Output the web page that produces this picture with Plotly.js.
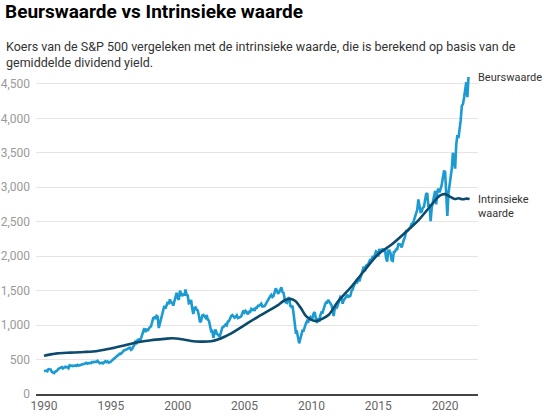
<!DOCTYPE html>
<html>
<head>
<meta charset="utf-8">
<script src="https://cdn.plot.ly/plotly-3.0.1.min.js"></script>
<style>
  html, body { margin: 0; padding: 0; background: #fff; }
  #chart { width: 553px; height: 416px; }
</style>
</head>
<body>
<div id="chart"></div>
<script>
// S&P 500 monthly closes, Jan 1990 - Nov 2021 (values read / estimated)
const startYear = 1990;
const sp500Close = [
  // 1990
  329, 332, 340, 331, 361, 358, 356, 323, 306, 304, 322, 330,
  // 1991
  344, 367, 375, 375, 390, 371, 388, 395, 388, 392, 375, 417,
  // 1992
  409, 413, 404, 415, 415, 408, 424, 414, 418, 419, 431, 436,
  // 1993
  439, 443, 452, 440, 450, 450, 448, 464, 459, 468, 462, 466,
  // 1994
  482, 467, 446, 451, 456, 444, 458, 475, 463, 472, 454, 459,
  // 1995
  470, 487, 501, 515, 533, 545, 562, 562, 584, 581, 605, 616,
  // 1996
  636, 640, 645, 654, 669, 671, 640, 652, 687, 705, 757, 741,
  // 1997
  786, 791, 757, 801, 848, 885, 954, 899, 947, 915, 955, 970,
  // 1998
  980, 1049, 1102, 1112, 1091, 1134, 1121, 957, 1017, 1099, 1164, 1229,
  // 1999
  1280, 1238, 1286, 1335, 1302, 1373, 1329, 1320, 1283, 1363, 1389, 1469,
  // 2000
  1394, 1366, 1499, 1452, 1421, 1455, 1431, 1518, 1436, 1429, 1315, 1320,
  // 2001
  1366, 1240, 1160, 1249, 1256, 1224, 1211, 1134, 1041, 1060, 1139, 1148,
  // 2002
  1130, 1107, 1147, 1077, 1067, 990, 912, 916, 815, 886, 936, 880,
  // 2003
  856, 841, 848, 917, 964, 974, 990, 1008, 996, 1051, 1058, 1112,
  // 2004
  1131, 1145, 1126, 1107, 1121, 1141, 1102, 1104, 1115, 1130, 1174, 1212,
  // 2005
  1181, 1204, 1181, 1157, 1191, 1191, 1234, 1220, 1229, 1207, 1249, 1248,
  // 2006
  1280, 1281, 1295, 1311, 1270, 1270, 1277, 1304, 1336, 1378, 1401, 1418,
  // 2007
  1438, 1407, 1421, 1482, 1531, 1503, 1455, 1474, 1527, 1549, 1481, 1468,
  // 2008
  1379, 1331, 1323, 1386, 1400, 1280, 1267, 1283, 1166, 969, 896, 903,
  // 2009
  826, 735, 798, 873, 919, 919, 988, 1021, 1057, 1036, 1096, 1115,
  // 2010
  1074, 1105, 1169, 1187, 1089, 1031, 1102, 1049, 1141, 1183, 1181, 1258,
  // 2011
  1286, 1327, 1326, 1364, 1345, 1321, 1292, 1219, 1131, 1253, 1247, 1258,
  // 2012
  1312, 1366, 1409, 1398, 1310, 1362, 1379, 1407, 1441, 1412, 1416, 1426,
  // 2013
  1498, 1515, 1569, 1598, 1631, 1606, 1686, 1633, 1682, 1757, 1806, 1848,
  // 2014
  1783, 1860, 1872, 1884, 1924, 1960, 1931, 2003, 1972, 2018, 2068, 2059,
  // 2015
  1995, 2105, 2068, 2086, 2107, 2063, 2104, 1972, 1920, 2079, 2080, 2044,
  // 2016
  1940, 1932, 2060, 2065, 2097, 2099, 2174, 2171, 2168, 2126, 2199, 2239,
  // 2017
  2279, 2364, 2363, 2384, 2412, 2423, 2470, 2472, 2519, 2575, 2648, 2674,
  // 2018
  2824, 2714, 2641, 2648, 2705, 2718, 2816, 2902, 2914, 2712, 2760, 2507,
  // 2019
  2704, 2785, 2834, 2946, 2752, 2942, 2980, 2927, 2977, 3038, 3141, 3231,
  // 2020
  3226, 2954, 2585, 2912, 3044, 3100, 3271, 3500, 3363, 3270, 3622, 3756,
  // 2021
  3714, 3811, 3973, 4181, 4204, 4298, 4395, 4523, 4308, 4605, 4590
];
const sp500Years = sp500Close.map((_, i) => startYear + i / 12);

// Intrinsic value (smooth curve)
const intrinsicYears = [
  1990.0, 1990.5, 1991.0, 1992.0, 1993.0, 1994.0, 1995.0, 1996.0, 1997.0,
  1998.0, 1999.0, 1999.6, 2000.3, 2001.0, 2001.7, 2002.5, 2003.0, 2003.5,
  2004.0, 2005.0, 2006.0, 2007.0, 2007.5, 2008.0, 2008.4, 2008.8, 2009.2,
  2009.6, 2010.0, 2010.4, 2010.8, 2011.3, 2012.0, 2013.0, 2014.0, 2015.0,
  2016.0, 2017.0, 2018.0, 2019.0, 2019.6, 2020.0, 2020.4, 2020.7, 2021.0,
  2021.3, 2021.6, 2021.83
];
const intrinsicValues = [
  555, 575, 590, 600, 610, 625, 660, 705, 750,
  780, 800, 810, 795, 770, 760, 765, 790, 830,
  880, 1000, 1120, 1230, 1290, 1360, 1380, 1350, 1250,
  1130, 1075, 1060, 1090, 1150, 1345, 1560, 1800, 2030,
  2170, 2340, 2520, 2750, 2880, 2900, 2860, 2830, 2840,
  2825, 2835, 2830
];

const xTicks = [1990, 1995, 2000, 2005, 2010, 2015, 2020];
const yTicks = [0, 500, 1000, 1500, 2000, 2500, 3000, 3500, 4000, 4500];

const FONT = 'Roboto, "Noto Sans", sans-serif';

const traces = [
  {
    x: sp500Years, y: sp500Close, type: 'scatter', mode: 'lines',
    name: 'Beurswaarde',
    line: { color: '#1b9bd1', width: 2.6 },
    hoverinfo: 'skip'
  },
  {
    x: intrinsicYears, y: intrinsicValues, type: 'scatter', mode: 'lines',
    name: 'Intrinsieke waarde',
    line: { color: '#0c4a6e', width: 2.6, shape: 'spline', smoothing: 0.8 },
    hoverinfo: 'skip'
  }
];

const layout = {
  width: 553, height: 416,
  margin: { l: 36, r: 75, t: 77, b: 22, pad: 0 },
  paper_bgcolor: '#fff', plot_bgcolor: '#fff',
  showlegend: false,
  font: { family: FONT, color: '#333' },
  title: {
    text: '<b>Beurswaarde vs Intrinsieke waarde</b>',
    font: { family: FONT, size: 19, color: '#000' },
    x: 5 / 553, xref: 'container', xanchor: 'left',
    y: 1 - 5 / 416, yref: 'container', yanchor: 'top'
  },
  xaxis: {
    range: [1989.4, 2022.46],
    tickvals: xTicks, ticktext: xTicks.map(String),
    showgrid: false, zeroline: false,
    showline: true, linecolor: '#444', linewidth: 1.5,
    ticks: '', tickfont: { family: FONT, size: 12, color: '#666' },
    fixedrange: true
  },
  yaxis: {
    range: [0, 4600],
    tickvals: yTicks, ticktext: yTicks.map(v => v.toLocaleString('en-US')),
    showgrid: true, gridcolor: '#e5e5e5', gridwidth: 1,
    zeroline: false, showline: false,
    ticks: '', ticklabelstandoff: 5,
    tickfont: { family: FONT, size: 12, color: '#9a9a9a' },
    fixedrange: true
  },
  annotations: [
    {
      text: 'Koers van de S&amp;P 500 vergeleken met de intrinsieke waarde, die is berekend op basis van de<br>gemiddelde dividend yield.',
      xref: 'paper', yref: 'paper',
      x: (5 - 36) / 442, y: (394 - 37) / 317,
      xanchor: 'left', yanchor: 'top', align: 'left',
      showarrow: false, xshift: -1,
      font: { family: FONT, size: 12.5, color: '#333' }
    },
    {
      text: 'Beurswaarde',
      xref: 'paper', yref: 'y',
      x: 1, y: 4586, xanchor: 'left', yanchor: 'middle', align: 'left',
      showarrow: false, xshift: -2,
      font: { family: FONT, size: 11, color: '#333' }
    },
    {
      text: 'Intrinsieke<br>waarde',
      xref: 'paper', yref: 'y',
      x: 1, y: 2714, xanchor: 'left', yanchor: 'middle', align: 'left',
      showarrow: false, xshift: -2,
      font: { family: FONT, size: 11, color: '#333' }
    }
  ]
};

Plotly.newPlot('chart', traces, layout, { staticPlot: true, displayModeBar: false });
</script>
</body>
</html>
